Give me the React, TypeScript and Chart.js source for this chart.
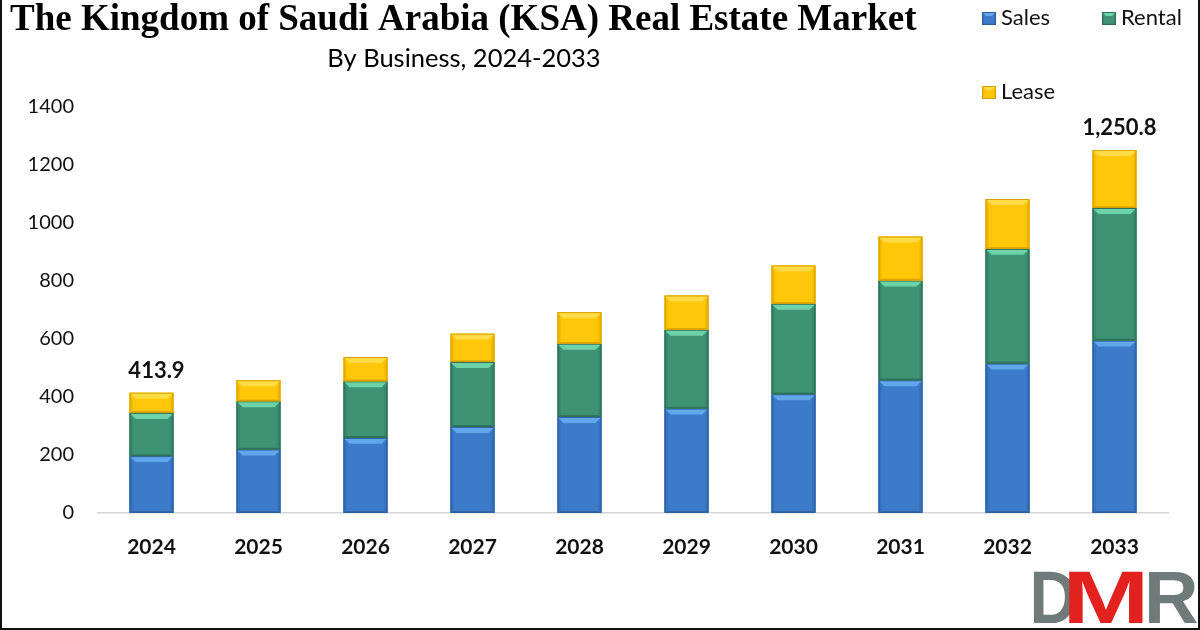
import React, { useEffect, useRef } from 'react';
import { Chart, registerables } from 'chart.js';

Chart.register(...registerables);

// Market size by business segment (US$ bn), 2024-2033
const years = ['2024', '2025', '2026', '2027', '2028', '2029', '2030', '2031', '2032', '2033'];
const salesValues = [195.4, 218.4, 258.3, 296.2, 330.6, 359.5, 408.7, 456.8, 514.3, 593.8];
const rentalValues = [149.0, 166.2, 195.1, 223.6, 252.4, 271.7, 312.0, 344.0, 395.6, 457.1];
const leaseValues = [69.5, 72.2, 83.6, 97.7, 108.8, 118.0, 131.7, 151.4, 171.9, 199.9];
const yTickValues = [0, 200, 400, 600, 800, 1000, 1200, 1400];
const totalLabelYears = ['2024', '2033'];

const seriesNames = ['Sales', 'Rental', 'Lease'];

type Tone = { body: string; top: string; side: string; bottom: string; edge: string };

const tones: Tone[] = [
  { body: '#3b7bc9', top: '#62a6ec', side: '#3570bb', bottom: '#3166a8', edge: '#2d5f9e' },
  { body: '#3d9374', top: '#6cd3a8', side: '#38866a', bottom: '#33785f', edge: '#2e6e56' },
  { body: '#ffc708', top: '#ffdc45', side: '#f2b800', bottom: '#e3a800', edge: '#d6a000' },
];

function drawBevelBox(ctx: CanvasRenderingContext2D, l: number, t: number, r: number, b: number, tone: Tone, bev: number) {
  const h = b - t;
  const bv = Math.min(bev, h / 2, (r - l) / 2);
  ctx.save();
  ctx.fillStyle = tone.body;
  ctx.fillRect(l, t, r - l, h);
  // top facet
  ctx.beginPath();
  ctx.moveTo(l, t);
  ctx.lineTo(r, t);
  ctx.lineTo(r - bv, t + bv);
  ctx.lineTo(l + bv, t + bv);
  ctx.closePath();
  ctx.fillStyle = tone.top;
  ctx.fill();
  // left and right facets
  const sv = bv * 0.5;
  const bt = bv * 0.3;
  ctx.fillStyle = tone.side;
  ctx.beginPath();
  ctx.moveTo(l, t);
  ctx.lineTo(l + sv, t + bv);
  ctx.lineTo(l + sv, b - bt);
  ctx.lineTo(l, b);
  ctx.closePath();
  ctx.fill();
  ctx.beginPath();
  ctx.moveTo(r, t);
  ctx.lineTo(r - sv, t + bv);
  ctx.lineTo(r - sv, b - bt);
  ctx.lineTo(r, b);
  ctx.closePath();
  ctx.fill();
  // bottom facet
  ctx.fillStyle = tone.bottom;
  ctx.beginPath();
  ctx.moveTo(l, b);
  ctx.lineTo(r, b);
  ctx.lineTo(r - sv, b - bt);
  ctx.lineTo(l + sv, b - bt);
  ctx.closePath();
  ctx.fill();
  ctx.strokeStyle = tone.edge;
  ctx.lineWidth = 1;
  ctx.strokeRect(l + 0.5, t + 0.5, r - l - 1, h - 1);
  ctx.restore();
}

const bevelBarsPlugin = {
  id: 'bevelBars',
  afterDatasetsDraw(chart: any) {
    const ctx: CanvasRenderingContext2D = chart.ctx;
    chart.data.datasets.forEach((_ds: any, di: number) => {
      const meta = chart.getDatasetMeta(di);
      meta.data.forEach((el: any) => {
        const { x, y, base, width } = el.getProps(['x', 'y', 'base', 'width'], true);
        drawBevelBox(ctx, x - width / 2, Math.min(y, base), x + width / 2, Math.max(y, base), tones[di], 6);
      });
    });
    // stack totals above the first and last bars
    ctx.save();
    ctx.font = 'bold 22px Lato';
    ctx.fillStyle = '#111';
    ctx.textAlign = 'center';
    ctx.textBaseline = 'alphabetic';
    const topMeta = chart.getDatasetMeta(chart.data.datasets.length - 1);
    years.forEach((yr, i) => {
      if (!totalLabelYears.includes(yr)) return;
      const total = salesValues[i] + rentalValues[i] + leaseValues[i];
      const text = total.toLocaleString('en-US', { minimumFractionDigits: 1, maximumFractionDigits: 1 });
      const el = topMeta.data[i];
      ctx.fillText(text, el.x + 5, el.y - 15);
    });
    ctx.restore();
  },
};

function drawLetter(ctx: CanvasRenderingContext2D, ch: string, x0: number, x1: number, baseline: number, color: string) {
  const m = ctx.measureText(ch);
  const ink = m.actualBoundingBoxLeft + m.actualBoundingBoxRight;
  const sx = (x1 - x0) / ink;
  ctx.save();
  ctx.translate(x0, baseline);
  ctx.scale(sx, 1);
  ctx.fillStyle = color;
  ctx.fillText(ch, m.actualBoundingBoxLeft, 0);
  ctx.restore();
}

const decorPlugin = {
  id: 'decor',
  afterDraw(chart: any) {
    const ctx: CanvasRenderingContext2D = chart.ctx;
    ctx.save();
    // title and subtitle
    ctx.fillStyle = '#000';
    ctx.textBaseline = 'alphabetic';
    ctx.textAlign = 'left';
    ctx.font = 'bold 37px "Liberation Serif"';
    ctx.fillText('The Kingdom of Saudi Arabia (KSA) Real Estate Market', 10, 30);
    ctx.textAlign = 'center';
    ctx.font = '25.5px Lato';
    ctx.fillText('By Business, 2024-2033', 464, 67);

    // legend
    const legendItems = [
      { x: 982, y: 12, label: seriesNames[0] },
      { x: 1102, y: 12, label: seriesNames[1] },
      { x: 982, y: 86, label: seriesNames[2] },
    ];
    ctx.textAlign = 'left';
    ctx.font = '22px Lato';
    legendItems.forEach((it, i) => {
      drawBevelBox(ctx, it.x, it.y, it.x + 14, it.y + 13, tones[i], 4);
      ctx.fillStyle = '#111';
      ctx.fillText(it.label, it.x + 19, it.y + 13);
    });

    // DMR mark
    ctx.font = 'bold 74px "Liberation Sans"';
    ctx.textAlign = 'left';
    drawLetter(ctx, 'D', 1033, 1075, 623, '#6f7b7b');
    drawLetter(ctx, 'R', 1148, 1197, 623, '#6f7b7b');
    drawLetter(ctx, 'M', 1068, 1143, 623, '#e3211f');

    // frame
    ctx.fillStyle = '#111';
    ctx.fillRect(0, 0, 2, 630);
    ctx.fillRect(1198, 0, 2, 630);
    ctx.fillRect(0, 628, 1200, 2);
    ctx.restore();
  },
};

export default function App() {
  const canvasRef = useRef<HTMLCanvasElement | null>(null);

  useEffect(() => {
    if (!canvasRef.current) return;
    const seriesValues = [salesValues, rentalValues, leaseValues];
    const chart = new Chart(canvasRef.current, {
      type: 'bar',
      data: {
        labels: years,
        datasets: seriesNames.map((name, i) => ({
          label: name,
          data: seriesValues[i],
          backgroundColor: tones[i].body,
          borderWidth: 0,
          barPercentage: 0.41,
          categoryPercentage: 1,
        })),
      },
      options: {
        responsive: false,
        animation: false,
        layout: { padding: { left: 0, right: 32, top: 106.7, bottom: 57.2 } },
        plugins: {
          legend: { display: false },
          title: { display: false },
          tooltip: { enabled: false },
        },
        scales: {
          x: {
            stacked: true,
            grid: { display: false, drawTicks: false },
            border: { display: true, color: '#d4d4d4', width: 1.5 },
            ticks: { color: '#111', font: { family: 'Lato', size: 21, weight: 'bold' }, padding: 22 },
            afterFit: (scale: any) => {
              scale.height = 60;
            },
          },
          y: {
            stacked: true,
            min: 0,
            max: 1400,
            grid: { display: false, drawTicks: false },
            border: { display: false },
            afterBuildTicks: (scale: any) => {
              scale.ticks = yTickValues.map((v) => ({ value: v }));
            },
            ticks: {
              color: '#111',
              font: { family: 'Lato', size: 20 },
              padding: 24,
              callback: (v: any) => String(v),
            },
            afterFit: (scale: any) => {
              scale.width = 98;
            },
          },
        },
      },
      plugins: [bevelBarsPlugin, decorPlugin],
    });
    return () => chart.destroy();
  }, []);

  return (
    <div style={{ position: 'fixed', left: 0, top: 0, width: 1200, height: 630, background: '#fff' }}>
      <canvas ref={canvasRef} width={1200} height={630} />
    </div>
  );
}
